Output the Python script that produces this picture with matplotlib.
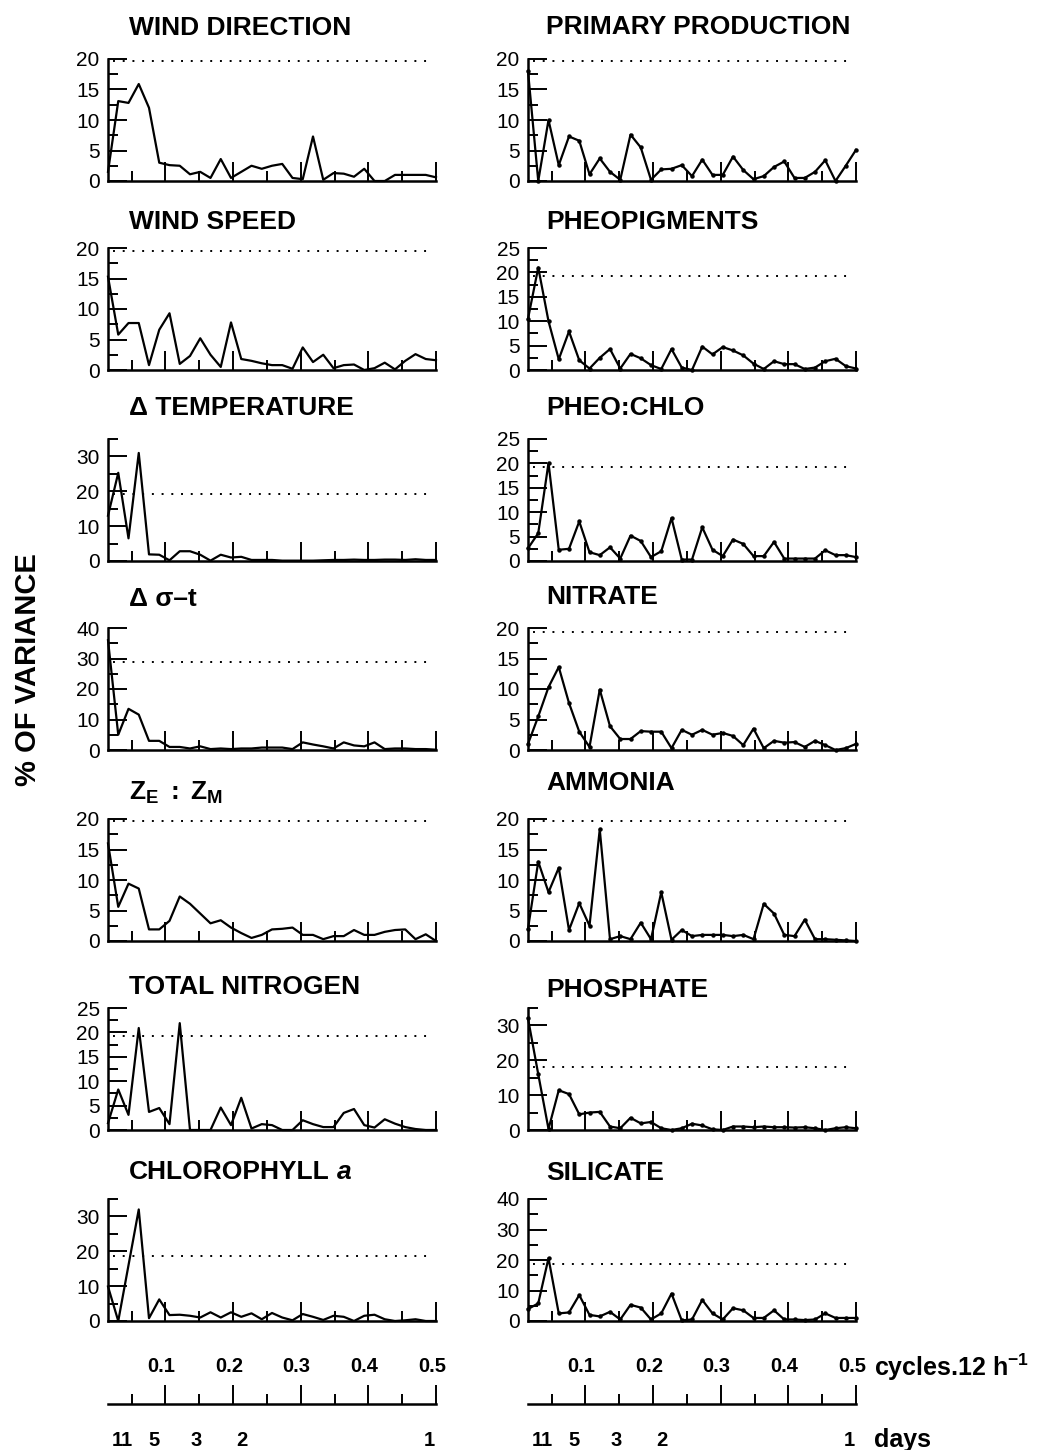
import numpy as np
import matplotlib
matplotlib.use('Agg')
import matplotlib.pyplot as plt
from matplotlib.ticker import MultipleLocator
import matplotlib.transforms as mtransforms

plt.rcParams['font.family'] = ['Liberation Sans', 'DejaVu Sans']
plt.rcParams['mathtext.fontset'] = 'custom'
plt.rcParams['mathtext.rm'] = 'Liberation Sans'
plt.rcParams['mathtext.bf'] = 'Liberation Sans:bold'
plt.rcParams['mathtext.it'] = 'Liberation Sans:italic'

# spectral frequencies (cycles per 12 h), 66 samples -> 33 estimates
freq = np.arange(1, 34) / 66.0

# ---- left column (% of variance) ----
wind_direction = [1.5, 13.1, 12.8, 15.9, 12.0, 3.0, 2.6, 2.5, 1.1, 1.5, 0.5, 3.6, 0.5, 1.5, 2.5, 2.0, 2.5,
                  2.8, 0.5, 0.3, 7.3, 0.2, 1.3, 1.2, 0.7, 2.0, 0.0, 0.0, 1.0, 1.0, 1.0, 1.0, 0.6]
wind_speed = [15.3, 5.8, 7.7, 7.7, 0.8, 6.6, 9.3, 1.0, 2.3, 5.2, 2.5, 0.5, 7.8, 1.8, 1.5, 1.1, 0.8,
              0.8, 0.2, 3.7, 1.3, 2.5, 0.3, 0.8, 0.9, 0.0, 0.3, 1.2, 0.1, 1.5, 2.6, 1.8, 1.6]
delta_temperature = [13.0, 25.3, 6.5, 31.0, 1.9, 1.8, 0.2, 2.8, 2.8, 1.8, 0.1, 1.8, 1.0, 1.2, 0.3, 0.3, 0.3,
                     0.1, 0.1, 0.1, 0.1, 0.2, 0.3, 0.3, 0.4, 0.3, 0.3, 0.4, 0.4, 0.3, 0.5, 0.3, 0.3]
delta_sigma_t = [36.0, 5.0, 13.5, 11.6, 3.0, 3.0, 1.0, 1.0, 0.5, 1.2, 0.3, 0.5, 0.3, 0.5, 0.5, 0.8, 0.8,
                 0.8, 0.3, 2.5, 1.8, 1.2, 0.5, 2.5, 1.5, 1.2, 2.5, 0.3, 0.5, 0.5, 0.3, 0.3, 0.1]
ze_zm = [16.0, 5.6, 9.4, 8.6, 1.9, 1.9, 3.3, 7.3, 6.1, 4.5, 2.9, 3.4, 2.2, 1.3, 0.5, 1.0, 1.9,
         2.0, 2.2, 1.0, 1.0, 0.3, 0.8, 0.8, 1.8, 1.0, 1.0, 1.5, 1.8, 1.9, 0.3, 1.1, 0.0]
total_nitrogen = [1.4, 8.3, 3.1, 20.9, 3.7, 4.5, 1.2, 21.9, 0.0, 0.0, 0.0, 4.6, 1.0, 6.6, 0.3, 1.2, 1.0,
                  0.0, 0.0, 2.0, 1.2, 0.6, 0.6, 3.5, 4.3, 1.0, 0.5, 2.2, 1.3, 0.6, 0.2, 0.0, 0.0]
chlorophyll_a = [9.9, 0.0, 16.0, 32.0, 0.8, 6.2, 1.7, 1.8, 1.5, 1.0, 2.5, 1.0, 2.5, 1.2, 2.2, 0.5, 2.3,
                 1.0, 0.2, 2.0, 1.2, 0.3, 1.5, 1.2, 0.0, 1.5, 1.8, 0.5, 0.0, 0.2, 0.5, 0.0, 0.0]

# ---- right column ----
primary_production = [18.0, 0.0, 10.0, 2.6, 7.3, 6.6, 1.1, 3.7, 1.5, 0.2, 7.6, 5.5, 0.2, 1.9, 2.0, 2.6, 0.8,
                      3.5, 1.0, 1.0, 4.0, 1.8, 0.3, 0.8, 2.3, 3.2, 0.5, 0.5, 1.5, 3.4, 0.0, 2.5, 5.1]
pheopigments = [10.5, 21.0, 10.0, 2.2, 7.9, 2.0, 0.3, 2.5, 4.3, 0.3, 3.3, 2.4, 1.0, 0.2, 4.3, 0.5, 0.0,
                4.8, 3.2, 4.7, 4.0, 3.0, 1.3, 0.2, 1.8, 1.2, 1.2, 0.2, 0.5, 1.8, 2.3, 0.8, 0.3]
pheo_chlo = [2.6, 5.7, 20.1, 2.3, 2.5, 8.1, 1.8, 1.2, 2.8, 0.5, 5.2, 4.1, 0.8, 2.0, 8.8, 0.3, 0.3,
             6.9, 2.3, 1.0, 4.4, 3.5, 1.0, 1.0, 3.9, 0.5, 0.5, 0.5, 0.5, 2.2, 1.2, 1.2, 0.8]
nitrate = [1.0, 5.5, 10.3, 13.6, 7.7, 3.0, 0.5, 9.9, 3.9, 1.8, 1.8, 3.1, 3.0, 3.0, 0.3, 3.3, 2.5,
           3.3, 2.5, 2.8, 2.3, 0.8, 3.5, 0.3, 1.5, 1.2, 1.3, 0.5, 1.5, 0.8, 0.0, 0.3, 1.0]
ammonia = [2.0, 13.0, 8.0, 12.0, 1.8, 6.2, 2.5, 18.3, 0.3, 0.8, 0.3, 3.0, 0.3, 8.0, 0.2, 1.8, 0.8,
           1.0, 1.0, 1.0, 0.8, 1.0, 0.3, 6.1, 4.5, 1.0, 0.8, 3.5, 0.3, 0.3, 0.2, 0.1, 0.0]
phosphate = [32.0, 16.0, 0.3, 11.4, 10.3, 4.5, 5.0, 5.2, 1.0, 0.5, 3.5, 1.9, 2.3, 0.5, 0.0, 0.5, 1.8,
             1.3, 0.2, 0.0, 1.0, 1.0, 0.8, 1.0, 0.8, 0.8, 0.7, 0.8, 0.5, 0.0, 0.5, 0.8, 0.5]
silicate = [3.9, 5.8, 20.6, 2.5, 2.8, 8.5, 2.0, 1.5, 3.0, 0.5, 5.3, 4.4, 0.5, 2.5, 9.0, 0.2, 0.5,
            6.9, 2.5, 0.5, 4.2, 3.5, 1.0, 1.0, 3.5, 0.5, 0.5, 0.3, 0.5, 2.5, 1.0, 1.0, 1.0]

left_titles = ['WIND DIRECTION', 'WIND SPEED', 'Δ TEMPERATURE', 'Δ σ–t',
               r'$\mathbf{Z_E\ :\ Z_M}$', 'TOTAL NITROGEN', 'CHLOROPHYLL']
right_titles = ['PRIMARY PRODUCTION', 'PHEOPIGMENTS', 'PHEO:CHLO', 'NITRATE',
                'AMMONIA', 'PHOSPHATE', 'SILICATE']
left_series = [wind_direction, wind_speed, delta_temperature, delta_sigma_t, ze_zm, total_nitrogen, chlorophyll_a]
right_series = [primary_production, pheopigments, pheo_chlo, nitrate, ammonia, phosphate, silicate]
left_ymax = [20, 20, 35, 40, 20, 25, 35]
left_ystep = [5, 5, 10, 10, 5, 5, 10]
right_ymax = [20, 25, 25, 20, 20, 35, 40]
right_ystep = [5, 5, 5, 5, 5, 10, 10]
# significance levels (dotted lines)
left_signif = [19.7, 19.5, 19.3, 28.7, 19.7, 19.2, 18.6]
right_signif = [19.6, 19.3, 19.3, 19.4, 19.7, 18.1, 18.7]

freq_labels = ['0.1', '0.2', '0.3', '0.4', '0.5']
freq_label_values = [0.1, 0.2, 0.3, 0.4, 0.5]
day_labels = ['11', '5', '3', '2', '1']
day_label_pos = [0.037, 0.083, 0.146, 0.213, 0.490]

W, H = 1047, 1450
fig = plt.figure(figsize=(W / 100, H / 100), dpi=100)

col_x = [108, 528]
ax_w = 328
row_bottom = [181, 370, 561, 750, 941, 1130, 1321]
ax_h = 122
title_y = [[28, 222, 408, 599, 793, 987, 1172], [27, 222, 408, 597, 783, 990, 1173]]
title_x = [129, 546]


def style_axes(ax, ymax, ystep):
    ax.set_xlim(freq[0], 0.5)
    ax.set_ylim(0, ymax)
    for s in ('top', 'right'):
        ax.spines[s].set_visible(False)
    for s in ('left', 'bottom'):
        ax.spines[s].set_linewidth(1.8)
    ax.xaxis.set_major_locator(MultipleLocator(0.1))
    ax.xaxis.set_minor_locator(MultipleLocator(0.05))
    ax.tick_params(axis='x', which='major', direction='in', length=14, width=1.4, labelbottom=False)
    ax.tick_params(axis='x', which='minor', direction='in', length=7.5, width=1.4)
    ax.yaxis.set_major_locator(MultipleLocator(ystep))
    ax.yaxis.set_minor_locator(MultipleLocator(ystep / 2))
    ax.tick_params(axis='y', which='major', direction='in', length=14, width=1.4, labelsize=15, pad=6)
    ax.tick_params(axis='y', which='minor', direction='in', length=7.5, width=1.4)


for c, (titles, series, ymaxs, ysteps, sig) in enumerate([
        (left_titles, left_series, left_ymax, left_ystep, left_signif),
        (right_titles, right_series, right_ymax, right_ystep, right_signif)]):
    for r in range(7):
        ax = fig.add_axes([col_x[c] / W, 1 - row_bottom[r] / H, ax_w / W, ax_h / H])
        style_axes(ax, ymaxs[r], ysteps[r])
        if c == 1:
            ax.plot(freq, series[r], color='black', lw=1.6, clip_on=False,
                    marker='o', ms=2.2, mfc='black', mec='black')
        else:
            ax.plot(freq, series[r], color='black', lw=1.6, clip_on=False)
        ax.axhline(sig[r], xmin=0.015, xmax=0.98, color='black', lw=1.4, ls=(0, (1.0, 4.0)))
        t = fig.text(title_x[c] / W, 1 - title_y[c][r] / H, titles[r], ha='left', va='center',
                     fontsize=19, fontweight='bold')
        if c == 0 and r == 6:
            ax.annotate('a', xy=(1, 0), xycoords=t, xytext=(5, 0), textcoords='offset points',
                        ha='left', va='bottom', fontsize=19, fontweight='bold', fontstyle='italic',
                        annotation_clip=False)

    # bottom frequency scale
    sax = fig.add_axes([col_x[c] / W, 1 - 1404 / H, ax_w / W, 22 / H])
    sax.set_xlim(freq[0], 0.5)
    sax.set_ylim(0, 1)
    for s in ('top', 'right', 'left'):
        sax.spines[s].set_visible(False)
    sax.spines['bottom'].set_linewidth(1.8)
    sax.set_yticks([])
    sax.xaxis.set_major_locator(MultipleLocator(0.1))
    sax.xaxis.set_minor_locator(MultipleLocator(0.05))
    sax.tick_params(axis='x', which='major', direction='in', length=14, width=1.4, labelbottom=False)
    sax.tick_params(axis='x', which='minor', direction='in', length=7.5, width=1.4)
    sax.patch.set_visible(False)
    tr = mtransforms.blended_transform_factory(sax.transData, fig.transFigure)
    tr_shift = tr + mtransforms.ScaledTranslation(-4 / 100, 0, fig.dpi_scale_trans)
    for lab, v in zip(freq_labels, freq_label_values):
        sax.text(v, 1 - 1367 / H, lab, transform=tr_shift, ha='center', va='center',
                 fontsize=14.5, fontweight='bold', clip_on=False)
    for lab, v in zip(day_labels, day_label_pos):
        sax.text(v, 1 - 1440 / H, lab, transform=tr, ha='center', va='center',
                 fontsize=14.5, fontweight='bold', clip_on=False)

fig.text(874 / W, 1 - 1367 / H, r'cycles.12 h$^{\mathbf{-1}}$', ha='left', va='center',
         fontsize=18, fontweight='bold')
fig.text(874 / W, 1 - 1440 / H, 'days', ha='left', va='center', fontsize=18, fontweight='bold')
fig.text(28 / W, 1 - 670 / H, '% OF VARIANCE', ha='center', va='center', rotation=90,
         fontsize=21, fontweight='bold')

fig.savefig('out.png', dpi=100, facecolor='white')
